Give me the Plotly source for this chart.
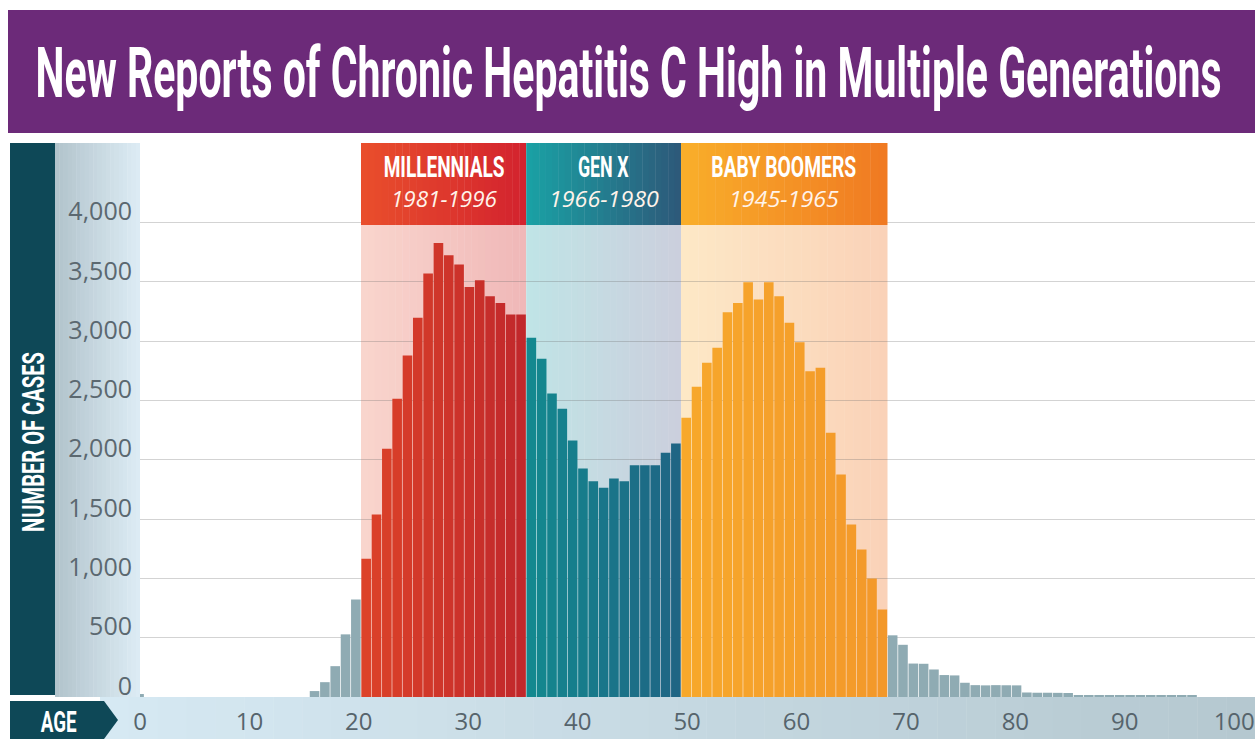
import json
import plotly.graph_objects as go

# ---- data -------------------------------------------------------------
# New reports of chronic hepatitis C, by single year of age
ages = list(range(0, 103))
cases = (
    [25] + [0] * 16 +                                   # 0-16
    [50, 125, 260, 528, 822] +                          # 17-21
    [1165, 1539, 2092, 2514, 2879, 3196, 3570, 3828,    # 22-29
     3724, 3645, 3457, 3513, 3378, 3322, 3224, 3224] +  # 30-37
    [3028, 2851, 2558, 2429, 2162, 1926, 1819, 1763,    # 38-45
     1842, 1819, 1954, 1954, 1954, 2059, 2137] +        # 46-52
    [2354, 2615, 2817, 2943, 3244, 3322, 3497, 3350,    # 53-60
     3497, 3378, 3154, 2991, 2746, 2775, 2227, 1876,    # 61-68
     1455, 1244, 999, 738] +                            # 69-72
    [520, 440, 282, 280, 232, 185, 182, 120,            # 73-80
     100, 98, 100, 99, 98, 38, 36, 36, 35, 34] +        # 81-90
    [15] * 12                                           # 91-102
)

gen_names = ["MILLENNIALS", "GEN X", "BABY BOOMERS"]
gen_years = ["1981-1996", "1966-1980", "1945-1965"]
gen_first_age = [22, 38, 53]
gen_last_age = [37, 52, 72]

y_ticks = [0, 500, 1000, 1500, 2000, 2500, 3000, 3500, 4000]
age_ticks = [0, 10, 20, 30, 40, 50, 60, 70, 80, 90, 100]

TITLE = "New Reports of Chronic Hepatitis C High in Multiple Generations"

# ---- styling ----------------------------------------------------------
W, H = 1255, 739
ML, MR, MT, MB = 140, 0, 143, 42
PW, PH = W - ML - MR, H - MT - MB

HEAD = "Roboto, Liberation Sans, sans-serif"
BODY = "Open Sans, Noto Sans, sans-serif"

bar_grad = [("#dc4229", "#c1282b"), ("#13888f", "#1f6584"), ("#f7a82b", "#f3982a")]
head_grad = [("#e94e2c", "#d3232e"), ("#1aa0a4", "#2d5a7a"), ("#f9ae2a", "#f07a22")]
band_grad = [("#f9d5cd", "#f0b8b8"), ("#c0e4e6", "#cbcfdd"), ("#fde8c6", "#fad2b8")]
OTHER = "#8fabb3"
DARK = "#0e4857"


def hx(c):
    c = c.lstrip("#")
    return [int(c[i:i + 2], 16) for i in (0, 2, 4)]


def mix(c0, c1, t):
    a, b = hx(c0), hx(c1)
    return "#%02x%02x%02x" % tuple(round(a[i] + (b[i] - a[i]) * t) for i in range(3))


def px_x(p):
    return (p - ML) / PW


def px_y(p):
    return (H - MB - p) / PH


# bar colours: graded across each generation, neutral elsewhere
colors = []
for a in ages:
    col = OTHER
    for g in range(3):
        if gen_first_age[g] <= a <= gen_last_age[g]:
            t = (a - gen_first_age[g]) / max(1, gen_last_age[g] - gen_first_age[g])
            col = mix(bar_grad[g][0], bar_grad[g][1], t)
    colors.append(col)

fig = go.Figure()
fig.add_trace(go.Bar(
    x=ages, y=cases, marker=dict(color=colors, line=dict(width=0)),
    hoverinfo="x+y", showlegend=False,
))
# carrier for the age scale printed along the bottom strip
fig.add_trace(go.Scatter(
    x=age_ticks, y=[None] * len(age_ticks), xaxis="x2", mode="markers",
    showlegend=False, hoverinfo="skip",
))

shapes = []


def gradient(x0, x1, y0, y1, c0, c1, n, xref, yref, layer, ov):
    for i in range(n):
        xa = x0 + (x1 - x0) * i / n
        xb = x0 + (x1 - x0) * (i + 1) / n + (ov if i < n - 1 else 0)
        shapes.append(dict(type="rect", xref=xref, yref=yref, x0=xa, x1=xb,
                           y0=y0, y1=y1, line=dict(width=0),
                           fillcolor=mix(c0, c1, i / (n - 1)), layer=layer))


head_bottom = px_y(225)
for g in range(3):
    lo, hi = gen_first_age[g] - 0.5, gen_last_age[g] + 0.5
    # light shading behind the generation's bars
    gradient(lo, hi, 0, head_bottom, band_grad[g][0], band_grad[g][1], 24,
             "x", "paper", "below", 0.04)
    # coloured header box
    gradient(lo, hi, head_bottom, 1.0, head_grad[g][0], head_grad[g][1], 24,
             "x", "paper", "above", 0.04)

# title banner
shapes.append(dict(type="rect", xref="paper", yref="paper",
                   x0=px_x(8), x1=1.0, y0=px_y(133), y1=px_y(10),
                   line=dict(width=0), fillcolor="#6c2a79", layer="below"))
# left axis panel: dark band + graded strip
shapes.append(dict(type="rect", xref="paper", yref="paper",
                   x0=px_x(10), x1=px_x(55), y0=px_y(695), y1=px_y(143),
                   line=dict(width=0), fillcolor=DARK, layer="below"))
gradient(px_x(55), px_x(140), px_y(697), px_y(143), "#b2c4cc", "#dcebf4", 20,
         "paper", "paper", "below", 0.0004)
# bottom age strip
gradient(px_x(100), 1.0, px_y(739), px_y(697), "#d6e9f3", "#b5c8d0", 40,
         "paper", "paper", "below", 0.0004)
# "AGE" arrow tag
tag = [(10, 701), (104, 701), (118, 720), (104, 739), (10, 739)]
path = "M " + " L ".join("%f,%f" % (px_x(a), px_y(b)) for a, b in tag) + " Z"
shapes.append(dict(type="path", xref="paper", yref="paper", path=path,
                   line=dict(width=0), fillcolor=DARK, layer="above"))

annotations = []
fit_widths = []   # (annotation index, width in px) for the narrow display type


def note(text, x, y, font, xref="paper", yref="paper", fit=None, **kw):
    if fit:
        fit_widths.append([len(annotations), fit])
    annotations.append(dict(text=text, x=x, y=y, xref=xref, yref=yref,
                            showarrow=False, xanchor="center", yanchor="middle",
                            font=font, **kw))


note(TITLE, px_x(628), px_y(73),
     dict(family=HEAD, size=70, color="white", weight=700), fit=1186)
note("NUMBER OF CASES", px_x(33), px_y(442),
     dict(family=HEAD, size=32, color="white", weight=700), fit=180, textangle=-90)
note("AGE", px_x(58), px_y(721),
     dict(family=HEAD, size=30, color="white", weight=700), fit=36)

name_widths = [121, 51, 145]
year_widths = [106, 110, 110]
for g in range(3):
    cx = (gen_first_age[g] + gen_last_age[g]) / 2
    note(gen_names[g], cx, px_y(167),
         dict(family=HEAD, size=29, color="white", weight=700),
         xref="x", fit=name_widths[g])
    note("<i>%s</i>" % gen_years[g], cx, px_y(198),
         dict(family=BODY, size=22, color="#fff3ea"),
         xref="x", fit=year_widths[g])

fig.update_layout(
    width=W, height=H,
    margin=dict(l=ML, r=MR, t=MT, b=MB, autoexpand=False),
    paper_bgcolor="white", plot_bgcolor="white",
    bargap=0.07,
    shapes=shapes, annotations=annotations,
    xaxis=dict(range=[0.09, 108.1], showticklabels=False, showgrid=False,
               zeroline=False, showline=False, ticks="", fixedrange=True),
    xaxis2=dict(overlaying="x", anchor="y", side="bottom", range=[0, 101.9],
                tickvals=age_ticks, showgrid=False, zeroline=False, showline=False,
                ticks="", ticklabelstandoff=8, ticklabeloverflow="allow",
                tickfont=dict(family=BODY, size=24, color="#56646c"), fixedrange=True),
    yaxis=dict(range=[0, 4670], tickvals=y_ticks, tickformat=",d",
               showgrid=True, gridcolor="rgba(110,110,110,0.30)", gridwidth=1,
               zeroline=False, showline=False, ticks="",
               ticklabelposition="outside", ticklabelshift=-11, ticklabelstandoff=7,
               tickfont=dict(family=BODY, size=25, color="#5b6870"), fixedrange=True),
)

# narrow the display-type labels horizontally to their set widths
narrow_js = """
var gd = document.getElementById('{plot_id}');
var fits = %s;
function narrowText() {
  fits.forEach(function (f) {
    var g = gd.querySelector('g.annotation[data-index="' + f[0] + '"]');
    if (!g) return;
    var t = g.querySelector('text.annotation-text');
    if (!t) return;
    t.removeAttribute('transform');
    var bb = t.getBBox();
    if (!bb.width) return;
    var s = f[1] / bb.width;
    var cx = bb.x + bb.width / 2;
    t.setAttribute('transform', 'translate(' + (cx * (1 - s)) + ',0) scale(' + s + ',1)');
  });
}
narrowText();
gd.on('plotly_afterplot', narrowText);
""" % json.dumps(fit_widths)

fig.write_html("out.html", config={"displayModeBar": False}, post_script=narrow_js)
